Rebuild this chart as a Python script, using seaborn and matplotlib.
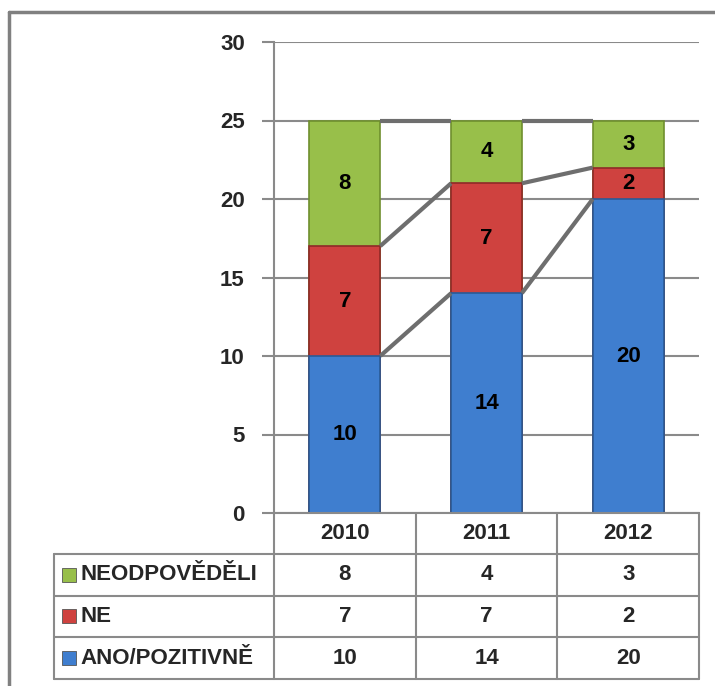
import numpy as np
import pandas as pd
import seaborn as sns
import matplotlib.pyplot as plt
from matplotlib.patches import Rectangle

# Data
years = ["2010", "2011", "2012"]
ano = [10, 14, 20]
ne = [7, 7, 2]
neodp = [8, 4, 3]
row_labels = ["NEODPOVĚDĚLI", "NE", "ANO/POZITIVNĚ"]
y_ticks = [0, 5, 10, 15, 20, 25, 30]

sns.set_theme(style="white")
plt.rcParams['font.family'] = ['Liberation Sans', 'DejaVu Sans']

green = "#98bf4a"
red = "#cf423f"
blue = "#3f7ecf"
gray = "#8a8a8a"
fs = 16

df = pd.DataFrame({"rok": years, "ANO": ano, "NE": ne, "NEODP": neodp})
df["ano_ne"] = df["ANO"] + df["NE"]
df["celkem"] = df["ano_ne"] + df["NEODP"]

W, H = 715, 686
fig = plt.figure(figsize=(W / 100, H / 100), dpi=100)
ax = fig.add_axes([274 / W, 1 - 513 / H, 425 / W, 471 / H])

# stacked bars: draw the cumulative totals from top to bottom
sns.barplot(data=df, x="rok", y="celkem", color=green, saturation=1, width=0.5,
            edgecolor="#6f8f2e", linewidth=1.2, ax=ax)
sns.barplot(data=df, x="rok", y="ano_ne", color=red, saturation=1, width=0.5,
            edgecolor="#8f2a28", linewidth=1.2, ax=ax)
sns.barplot(data=df, x="rok", y="ANO", color=blue, saturation=1, width=0.5,
            edgecolor="#2a5a96", linewidth=1.2, ax=ax)

# series lines between bars
for cum in [df["ANO"], df["ano_ne"], df["celkem"]]:
    for i in range(len(years) - 1):
        ax.plot([i + 0.25, i + 0.75], [cum[i], cum[i + 1]], color="#6e6e6e",
                lw=3, solid_capstyle="butt", zorder=3)

# labels in segments
for i in range(len(years)):
    bottoms = [0, ano[i], ano[i] + ne[i]]
    for b, v in zip(bottoms, [ano[i], ne[i], neodp[i]]):
        ax.text(i, b + v / 2, str(v), ha="center", va="center",
                fontsize=fs, fontweight="bold", color="black", zorder=4)

ax.set_xlim(-0.5, 2.5)
ax.set_ylim(0, 30)
ax.set_yticks(y_ticks)
ax.set_yticklabels([str(t) for t in y_ticks], fontsize=fs, fontweight="bold")
ax.set_xticks([])
ax.set_xlabel("")
ax.set_ylabel("")
ax.yaxis.grid(True, color=gray, lw=1.5)
ax.set_axisbelow(True)
ax.tick_params(axis="y", length=9, width=1.5, color=gray, pad=12, left=True)
for s in ["top", "right"]:
    ax.spines[s].set_visible(False)
for s in ["left", "bottom"]:
    ax.spines[s].set_color(gray)
    ax.spines[s].set_linewidth(1.5)

# overlay for data table and frame (pixel coordinates)
ov = fig.add_axes([0, 0, 1, 1])
ov.set_xlim(0, W)
ov.set_ylim(H, 0)
ov.axis("off")
ov.patch.set_alpha(0)

col_x = [274, 415.7, 557.3, 699]
row_y = [554, 595.5, 637, 679]
lc = dict(color=gray, lw=1.5)
for x in col_x:
    ov.plot([x, x], [513, row_y[-1]], **lc)
ov.plot([54, 54], [row_y[0], row_y[-1]], **lc)
for y in row_y:
    ov.plot([54, 699], [y, y], **lc)

centers = [(col_x[j] + col_x[j + 1]) / 2 for j in range(3)]
for j, yr in enumerate(years):
    ov.text(centers[j], 533.5, yr, ha="center", va="center",
            fontsize=fs, fontweight="bold")

row_vals = [neodp, ne, ano]
row_cols = [green, red, blue]
for r in range(3):
    yc = (row_y[r] + row_y[r + 1]) / 2
    ov.add_patch(Rectangle((62, yc - 7), 14, 14, facecolor=row_cols[r],
                           edgecolor="#555555", lw=0.6))
    ov.text(80, yc, row_labels[r], ha="left", va="center",
            fontsize=fs, fontweight="bold")
    for j in range(3):
        ov.text(centers[j], yc, str(row_vals[r][j]), ha="center", va="center",
                fontsize=fs, fontweight="bold")

# outer frame
ov.plot([9, 9], [12, H], color="#808080", lw=2.5)
ov.plot([9, W], [12, 12], color="#808080", lw=2.5)

fig.savefig("out.png", dpi=100)
